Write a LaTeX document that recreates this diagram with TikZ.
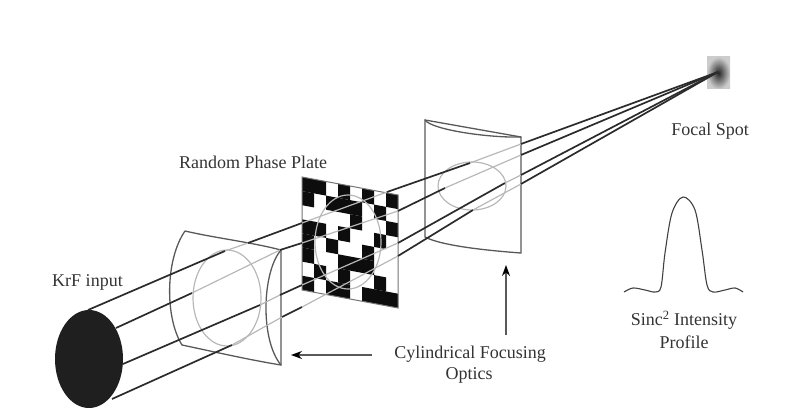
\documentclass[tikz,border=0pt]{standalone}
\usepackage{fontspec}
\setmainfont{Liberation Serif}
\usetikzlibrary{arrows.meta}
\definecolor{beamdark}{gray}{0.17}
\definecolor{beamgray}{gray}{0.72}
\definecolor{lensedge}{gray}{0.35}
\definecolor{inkblack}{gray}{0.05}
\tikzset{
  labeltext/.style={font=\fontsize{18}{20}\selectfont, text=black!80, inner sep=0pt, align=center},
  beam/.style={draw=beamdark, line width=1.7pt},
  beamthin/.style={draw=beamgray, line width=1.2pt},
  lens/.style={draw=lensedge, line width=1.3pt},
  ghost/.style={draw=beamgray, line width=1.2pt},
  pointer/.style={draw=black!65, line width=1.3pt, -{Stealth[length=11pt,width=8pt,color=black]}}
}
\begin{document}
\begin{tikzpicture}[x=1pt,y=-1pt]
\useasboundingbox (0,0) rectangle (786,419);
% focal spot
\shade[inner color=black!85, outer color=black!20] (707,57) rectangle (730,89);
\coordinate (focus) at (718,72);
% plate checker
\foreach \c/\rows in {0/{0,1,3,4,5,7},1/{0,3,6},2/{1,4,7},3/{0,1,3,5,6,7},4/{1,2,5},5/{0,4,5,7},6/{1,3,6,7},7/{0,2,7}}{
  \foreach \r in \rows {
    \fill[inkblack] ({302+12*\c},{177+2.25*\c+14.1*\r}) -- ({314+12*\c},{179.25+2.25*\c+14.1*\r})
      -- ({314+12*\c},{193.35+2.25*\c+14.1*\r}) -- ({302+12*\c},{191.1+2.25*\c+14.1*\r}) -- cycle;
  }
}
\draw[draw=black!55, line width=1pt] (302,177) -- (398,195) -- (398,308) -- (302,290) -- cycle;
\draw[ghost] (348,242) ellipse [x radius=33, y radius=47];
% lens 1
\draw[lens] (185,231) .. controls (215,238) and (250,242) .. (281,250) -- (281,365)
  .. controls (250,360) and (215,352) .. (182,345) .. controls (165,318) and (165,260) .. (185,231);
\draw[lens] (281,250) .. controls (262,272) and (260,340) .. (281,365);
\draw[ghost] (227,298) ellipse [x radius=34, y radius=48];
% lens 2
\draw[lens] (425,120) -- (521,137) -- (521,253) .. controls (480,250) and (440,245) .. (425,237) -- cycle;
\draw[lens] (425,120) .. controls (432,130) and (490,138) .. (521,137);
\draw[ghost] (472,186) ellipse [x radius=34, y radius=24];
% input disc
\fill[black!88] (89,359) ellipse [x radius=34, y radius=49];
% beams
\coordinate (a0) at (88,310); \coordinate (b0) at (116,328); \coordinate (c0) at (123,364); \coordinate (d0) at (112,399);
\draw[beam] (a0) -- (225,251); \draw[beamthin] (225,251) -- (248,243);
\draw[beam] (248,243) -- (302,223); \draw[beamthin] (302,223) -- (387,192);
\draw[beam] (387,192) -- (470,163); \draw[beamthin] (470,163) -- (521,144); \draw[beam] (521,144) -- (focus);
\draw[beam] (b0) -- (192,293); \draw[beamthin] (192,293) -- (280,250);
\draw[beam] (280,250) -- (302,243); \draw[beamthin] (302,243) -- (398,211);
\draw[beam] (398,211) -- (445,188); \draw[beamthin] (445,188) -- (521,155); \draw[beam] (521,155) -- (focus);
\draw[beam] (c0) -- (260,305); \draw[beamthin] (260,305) -- (280,295);
\draw[beam] (280,295) -- (302,285); \draw[beamthin] (302,285) -- (398,243);
\draw[beam] (398,243) -- (505,183); \draw[beamthin] (505,183) -- (521,175); \draw[beam] (521,175) -- (focus);
\draw[beam] (d0) -- (232,345); \draw[beamthin] (232,345) -- (282,317);
\draw[beam] (282,317) -- (302,307); \draw[beamthin] (302,307) -- (398,256);
\draw[beam] (398,256) -- (473,210); \draw[beamthin] (473,210) -- (521,184); \draw[beam] (521,184) -- (focus);
% profile
\draw[draw=black!75, line width=1.1pt] plot[smooth, tension=0.55] coordinates {(624,292) (633,288) (645,290) (655,292) (661,287) (665,253) (672,213) (683,197) (695,210) (702,250) (707,285) (713,292) (725,290) (735,288) (743,292)};
% labels
\node[labeltext] (krf) at (87.5,282) {KrF input};
\node[labeltext] (rpp) at (253,162) {Random Phase Plate};
\node[labeltext] (focal) at (710,131) {Focal Spot};
\node[labeltext] (sinc) at (684,320) {Sinc\textsuperscript{2} Intensity};
\node[labeltext] (prof) at (684,342) {Profile};
\node[labeltext] (cyl) at (470,354) {Cylindrical Focusing};
\node[labeltext] (opt) at (469,375) {Optics};
\coordinate (s1) at (372,355);
\coordinate (t1) at (291,355);
\coordinate (s2) at (506,335);
\coordinate (t2) at (506,265);
\draw[pointer] (s1) -- (t1);
\draw[pointer] (s2) -- (t2);
\end{tikzpicture}
\end{document}
